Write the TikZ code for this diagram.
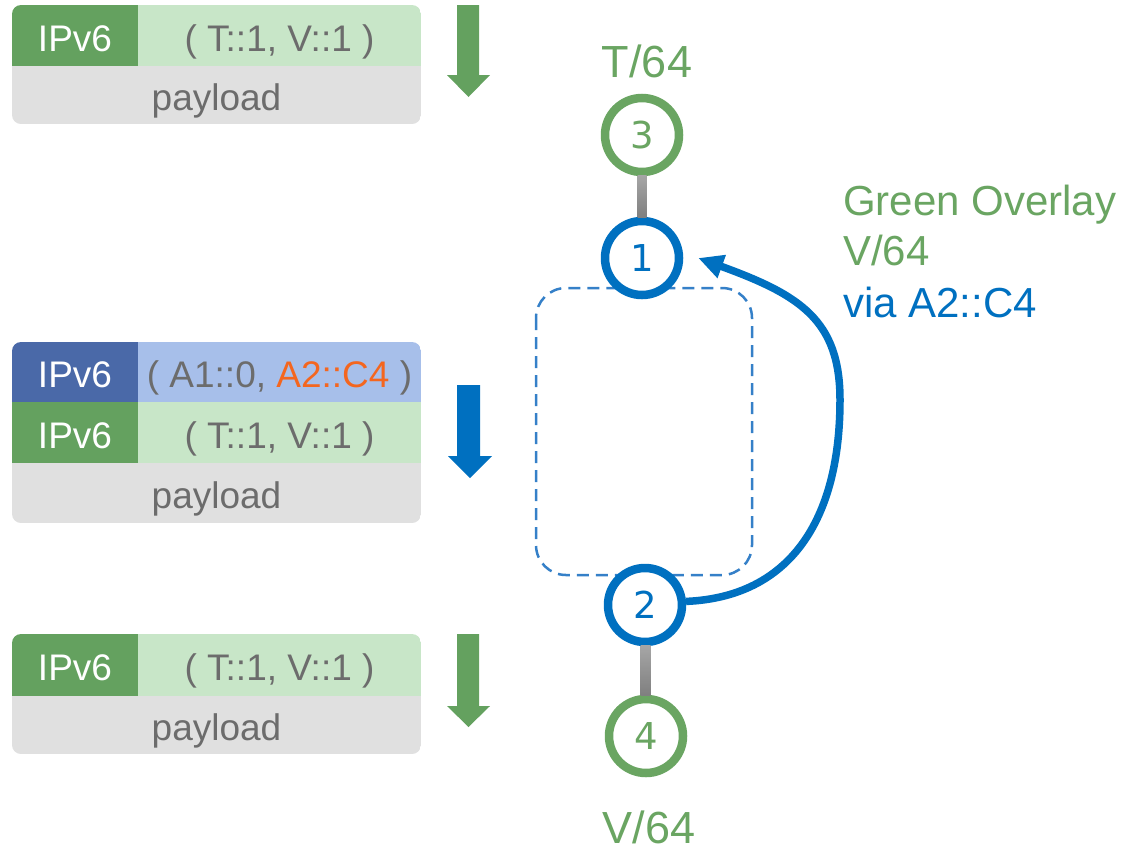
\documentclass[tikz,border=0pt]{standalone}
\usepackage{fontspec}
\setmainfont{Liberation Sans}
\newfontfamily\dvfont{DejaVu Sans}
\usetikzlibrary{arrows.meta,calc}
\definecolor{dkgreen}{HTML}{64A15F}
\definecolor{ltgreen}{HTML}{C8E6C8}
\definecolor{dkblue}{HTML}{4A69A8}
\definecolor{ltblue}{HTML}{A7BFEA}
\definecolor{paygray}{HTML}{E0E0E0}
\definecolor{txtgray}{HTML}{6C6C6C}
\definecolor{addrorange}{HTML}{F4661F}
\definecolor{nodeblue}{HTML}{0070C0}
\definecolor{labgreen}{HTML}{6AA562}
\definecolor{dashblue}{HTML}{3580C8}
\definecolor{linktop}{HTML}{A6A6A6}
\definecolor{linkbot}{HTML}{7F7F7F}
\begin{document}
\begin{tikzpicture}[x=1pt,y=-1pt,
  cell/.style={inner sep=0pt, outer sep=0pt, anchor=north west,
    font=\fontsize{37}{44}\selectfont, text height=31pt, text depth=0pt},
  hdrcell/.style={cell, text=white, minimum width=126pt},
  addrcell/.style={cell, text=txtgray, minimum width=283pt},
  paycell/.style={cell, fill=paygray, text=txtgray, minimum width=409pt},
  router/.style={circle, fill=white, line width=8.5pt, minimum size=74pt,
    inner sep=0pt, font=\dvfont\fontsize{37}{44}\selectfont},
  greenrouter/.style={router, draw=labgreen, text=labgreen},
  bluerouter/.style={router, draw=nodeblue, text=nodeblue},
  link/.style={top color=linktop, bottom color=linkbot},
  biglabel/.style={text=labgreen, font=\fontsize{45}{54}\selectfont, anchor=base, inner sep=0pt},
  sidelabel/.style={font=\fontsize{42}{50}\selectfont, anchor=base west, inner sep=0pt}
]
\useasboundingbox (0,0) rectangle (1126,852);

% ---- packet 1 ----
\begin{scope}
\clip[rounded corners=9pt] (12,5) rectangle (421,124);
\node[hdrcell, fill=dkgreen, minimum height=61pt] (p1h) at (12,5) {IPv6};
\node[addrcell, fill=ltgreen, minimum height=61pt] (p1a) at (138,5) {( T::1, V::1 )};
\node[paycell, minimum height=58pt] (p1p) at (12,66) {payload};
\end{scope}

% ---- packet 2 ----
\begin{scope}
\clip[rounded corners=9pt] (12,342) rectangle (421,523);
\node[hdrcell, fill=dkblue, minimum height=60pt] (p2oh) at (12,342) {IPv6};
\node[addrcell, fill=ltblue, minimum height=60pt] (p2oa) at (138,342) {( A1::0, {\color{addrorange}A2::C4} )};
\node[hdrcell, fill=dkgreen, minimum height=61pt] (p2ih) at (12,402) {IPv6};
\node[addrcell, fill=ltgreen, minimum height=61pt] (p2ia) at (138,402) {( T::1, V::1 )};
\node[paycell, minimum height=60pt] (p2p) at (12,463) {payload};
\end{scope}

% ---- packet 3 ----
\begin{scope}
\clip[rounded corners=9pt] (12,634) rectangle (421,754);
\node[hdrcell, fill=dkgreen, minimum height=62pt] (p3h) at (12,634) {IPv6};
\node[addrcell, fill=ltgreen, minimum height=62pt] (p3a) at (138,634) {( T::1, V::1 )};
\node[paycell, minimum height=58pt] (p3p) at (12,696) {payload};
\end{scope}

% ---- block arrows ----
\fill[dkgreen] (457,5) -- (479,5) -- (479,75) -- (490,75) -- (468.5,97) -- (447,75) -- (457,75) -- cycle;
\fill[nodeblue] (457,385) -- (480,385) -- (480,456) -- (492,456) -- (470,478) -- (448,456) -- (457,456) -- cycle;
\fill[dkgreen] (457,634) -- (479,634) -- (479,706) -- (490,706) -- (468.5,727) -- (447,706) -- (457,706) -- cycle;

% ---- dashed domain ----
\draw[dashblue, line width=2.5pt, dash pattern=on 12pt off 7pt, rounded corners=30pt]
  (536,288) rectangle (752,575);

% ---- routers ----
\node[greenrouter] (n3) at (642,135) {3};
\node[bluerouter]  (n1) at (642,258) {1};
\node[bluerouter]  (n2) at (645,605) {2};
\node[greenrouter] (n4) at (646,736) {4};

\shade[link] ($(n3.south)+(-4.5,-1)$) rectangle ($(n1.north)+(4.5,1)$);
\shade[link] ($(n2.south)+(-4.5,-1)$) rectangle ($(n4.north)+(4.5,1)$);

% ---- curved arrow ----
\coordinate (tip) at ($(n1.east)+(15,0)$);
\draw[nodeblue, line width=7.5pt, -{Triangle[length=25pt,width=23pt]}]
  (n2.5) .. controls (790,597) and (840,520) .. (840,400)
         .. controls (840,320) and (800,295) .. (tip);

% ---- labels ----
\node[biglabel] (lt) at (647,77) {T/64};
\node[biglabel] (lv) at (649,843) {V/64};
\node[sidelabel, text=labgreen] (s1) at (843,215) {Green Overlay};
\node[sidelabel, text=labgreen] (s2) at (843,265) {V/64};
\node[sidelabel, text=nodeblue] (s3) at (843,317) {via A2::C4};
\end{tikzpicture}
\end{document}
